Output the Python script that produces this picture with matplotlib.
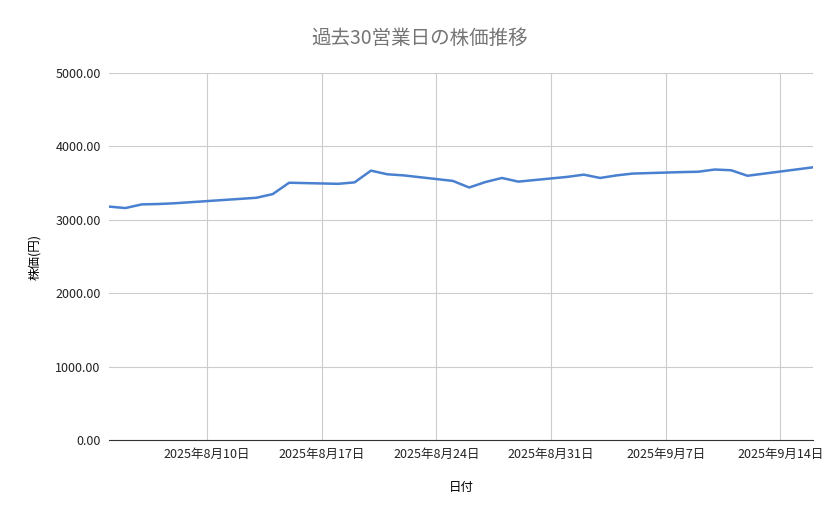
import matplotlib.pyplot as plt
import numpy as np
import datetime as dt

plt.rcParams['font.family'] = ['Noto Sans CJK JP', 'DejaVu Sans']

# 日付と株価
dates = ['2025-08-04', '2025-08-05', '2025-08-06', '2025-08-07', '2025-08-08',
         '2025-08-12', '2025-08-13', '2025-08-14', '2025-08-15',
         '2025-08-18', '2025-08-19', '2025-08-20', '2025-08-21', '2025-08-22',
         '2025-08-25', '2025-08-26', '2025-08-27', '2025-08-28', '2025-08-29',
         '2025-09-01', '2025-09-02', '2025-09-03', '2025-09-04', '2025-09-05',
         '2025-09-08', '2025-09-09', '2025-09-10', '2025-09-11', '2025-09-12',
         '2025-09-16']
prices = [3180, 3160, 3210, 3215, 3225,
          3285, 3300, 3350, 3505,
          3490, 3510, 3670, 3620, 3605,
          3530, 3440, 3515, 3570, 3520,
          3585, 3615, 3570, 3605, 3630,
          3650, 3655, 3685, 3675, 3600,
          3715]
tick_dates = ['2025-08-10', '2025-08-17', '2025-08-24', '2025-08-31', '2025-09-07', '2025-09-14']

x = [dt.datetime.strptime(d, '%Y-%m-%d') for d in dates]
ticks = [dt.datetime.strptime(d, '%Y-%m-%d') for d in tick_dates]

fig = plt.figure(figsize=(8.39, 5.19), dpi=100)
ax = fig.add_axes([109/839, 1-440/519, (813-109)/839, (440-73)/519])

ax.plot(x, prices, color='#4a80d0', lw=1.8)

ax.set_xlim(x[0], x[-1])
ax.set_ylim(0, 5000)
ax.set_yticks(np.arange(0, 5001, 1000))
ax.set_yticklabels(['%.2f' % v for v in np.arange(0, 5001, 1000)])
ax.set_xticks(ticks)
ax.set_xticklabels(['%d年%d月%d日' % (t.year, t.month, t.day) for t in ticks])
ax.grid(True, color='#cccccc', lw=0.8)
ax.set_axisbelow(True)
for s in ['top', 'right', 'left']:
    ax.spines[s].set_visible(False)
ax.spines['bottom'].set_color('#333333')
ax.tick_params(length=0, labelsize=9, colors='#222222', pad=6)

fig.text(0.5, 1-38/519, '過去30営業日の株価推移', fontsize=14, color='#757575',
         ha='center', va='center')
ax.set_xlabel('日付', fontsize=9, labelpad=14)
ax.set_ylabel('株価(円)', fontsize=9, labelpad=10)

fig.savefig('out.png', dpi=100)
